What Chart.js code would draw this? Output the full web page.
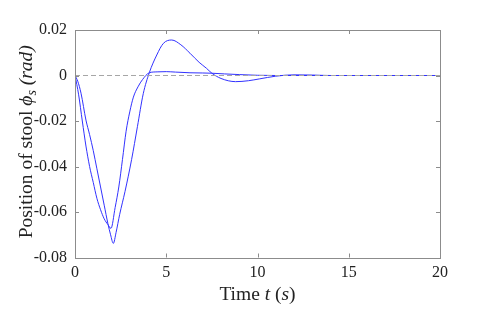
<!DOCTYPE html>
<html>
<head>
<meta charset="utf-8">
<script src="https://cdn.jsdelivr.net/npm/chart.js@4/dist/chart.umd.min.js"></script>
<style>
  html, body { margin: 0; padding: 0; background: #fff; }
  #wrap { width: 498px; height: 312px; }
</style>
</head>
<body>
<div id="wrap"><canvas id="stoolChart" width="498" height="312"></canvas></div>
<script>
// time samples and stool angle (rad)
const tempoA = [0, 0.15, 0.33, 0.6, 0.8, 1.0, 1.2, 1.4, 1.6, 1.8, 1.95, 2.1, 2.25, 2.45, 2.74, 3.1, 3.42, 3.74, 4.07, 4.48, 4.84, 5.3, 5.8, 6.3, 6.8, 7.2, 7.5, 8.0, 8.8, 9.5, 10.1, 11, 12, 13, 14, 16, 18, 20];
const phiA = [0, -0.0025, -0.0078, -0.0196, -0.026, -0.033, -0.041, -0.049, -0.057, -0.065, -0.070, -0.0738, -0.069, -0.061, -0.051, -0.037, -0.0225, -0.008, 0.0012, 0.009, 0.0141, 0.0156, 0.0135, 0.0098, 0.0058, 0.0032, 0.001, -0.0013, -0.0027, -0.0023, -0.0015, -0.0003, 0.0003, 0.0002, 0, 0, 0, 0];

const tempoB = [0, 0.1, 0.2, 0.4, 0.6, 0.8, 1.0, 1.2, 1.4, 1.6, 1.8, 1.97, 2.2, 2.4, 2.6, 2.8, 3.0, 3.2, 3.45, 3.7, 4.07, 4.5, 5.0, 5.5, 6.3, 7.0, 7.5, 8.2, 9.0, 10, 11, 12, 14, 16, 18, 20];
const phiB = [0, -0.004, -0.0085, -0.020, -0.031, -0.040, -0.047, -0.054, -0.059, -0.063, -0.0655, -0.0672, -0.058, -0.049, -0.037, -0.0245, -0.016, -0.0095, -0.005, -0.0018, 0.0012, 0.0016, 0.0017, 0.0015, 0.0012, 0.0011, 0.001, 0.0007, 0.0004, 0.0001, 0, 0, 0, 0, 0, 0];

// dashed reference line
const refT = [0, 20];
const refPhi = [0, 0];

const xTicks = [0, 5, 10, 15, 20];
const yTicks = [-0.08, -0.06, -0.04, -0.02, 0, 0.02];

const pares = (ts, ys) => ts.map((t, i) => ({ x: t, y: ys[i] }));

const SERIF = '"Liberation Serif", "DejaVu Serif", serif';
const CINZA = '#8c8c8c';
const TAM = '19.5px ';

// moldura e ticks para dentro nos quatro lados + titulos dos eixos
const moldura = {
  id: 'moldura',
  afterDraw(chart) {
    const { ctx, chartArea: a, scales } = chart;
    ctx.save();
    ctx.strokeStyle = CINZA;
    ctx.lineWidth = 1;
    ctx.strokeRect(Math.round(a.left) + 0.5, Math.round(a.top) + 0.5,
      Math.round(a.right - a.left), Math.round(a.bottom - a.top));
    const L = 4;
    ctx.beginPath();
    xTicks.forEach(v => {
      const px = Math.round(scales.x.getPixelForValue(v)) + 0.5;
      ctx.moveTo(px, a.bottom); ctx.lineTo(px, a.bottom - L);
      ctx.moveTo(px, a.top); ctx.lineTo(px, a.top + L);
    });
    yTicks.forEach(v => {
      const py = Math.round(scales.y.getPixelForValue(v)) + 0.5;
      ctx.moveTo(a.left, py); ctx.lineTo(a.left + L, py);
      ctx.moveTo(a.right, py); ctx.lineTo(a.right - L, py);
    });
    ctx.stroke();

    // titulo x: Time t (s)
    ctx.fillStyle = '#222';
    ctx.textBaseline = 'alphabetic';
    const partesX = [
      ['Time ', TAM + SERIF],
      ['t', 'italic ' + TAM + SERIF],
      [' (', TAM + SERIF],
      ['s', 'italic ' + TAM + SERIF],
      [')', TAM + SERIF]
    ];
    let w = 0;
    partesX.forEach(([s, f]) => { ctx.font = f; w += ctx.measureText(s).width; });
    let x0 = (a.left + a.right) / 2 - w / 2;
    partesX.forEach(([s, f]) => { ctx.font = f; ctx.fillText(s, x0, 300); x0 += ctx.measureText(s).width; });

    // titulo y: Position of stool phi_s (rad)
    const partesY = [
      ['Position of stool ', TAM + SERIF, 0],
      ['\u03d5', 'italic ' + TAM + SERIF, 0],
      ['s', 'italic 14px ' + SERIF, 4],
      [' (rad)', 'italic ' + TAM + SERIF, 0]
    ];
    w = 0;
    partesY.forEach(([s, f]) => { ctx.font = f; w += ctx.measureText(s).width; });
    ctx.translate(32, (a.top + a.bottom) / 2 - 2);
    ctx.rotate(-Math.PI / 2);
    x0 = -w / 2;
    partesY.forEach(([s, f, dy]) => { ctx.font = f; ctx.fillText(s, x0, dy); x0 += ctx.measureText(s).width; });
    ctx.restore();
  }
};

const ctx = document.getElementById('stoolChart').getContext('2d');

const chart = new Chart(ctx, {
  type: 'line',
  data: {
    datasets: [
      { data: pares(refT, refPhi), borderColor: '#a6a6a6', borderWidth: 1, borderDash: [5, 3], pointRadius: 0, fill: false },
      { data: pares(tempoA, phiA), borderColor: 'rgb(50,50,255)', borderWidth: 1, pointRadius: 0, fill: false, cubicInterpolationMode: 'monotone' },
      { data: pares(tempoB, phiB), borderColor: 'rgb(50,50,255)', borderWidth: 1, pointRadius: 0, fill: false, cubicInterpolationMode: 'monotone' }
    ]
  },
  options: {
    responsive: false,
    animation: false,
    events: [],
    layout: { padding: { left: 0, right: 58, top: 30, bottom: 0 } },
    plugins: { legend: { display: false }, tooltip: { enabled: false } },
    scales: {
      x: {
        type: 'linear', min: 0, max: 20,
        afterFit(s) { s.height = 54.5; },
        afterBuildTicks(s) { s.ticks = xTicks.map(v => ({ value: v })); },
        grid: { display: false, drawTicks: false },
        border: { display: false },
        ticks: { padding: 6, color: '#222', font: { family: SERIF, size: 16 }, maxRotation: 0,
          callback: v => String(v) }
      },
      y: {
        type: 'linear', min: -0.08, max: 0.02,
        afterFit(s) { s.width = 75; },
        afterBuildTicks(s) { s.ticks = yTicks.map(v => ({ value: v })); },
        grid: { display: false, drawTicks: false },
        border: { display: false },
        ticks: { padding: 8, color: '#222', font: { family: SERIF, size: 16 },
          callback: v => Math.abs(v) < 1e-9 ? '0' : v.toFixed(2) }
      }
    }
  },
  plugins: [moldura]
});
</script>
</body>
</html>
